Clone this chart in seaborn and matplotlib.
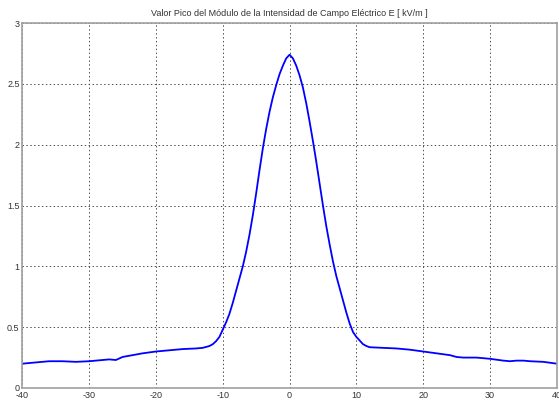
import matplotlib
matplotlib.use("Agg")
import matplotlib.pyplot as plt
import seaborn as sns
import pandas as pd

x_vals = [-40, -38, -36, -34, -32, -30, -28, -27, -26, -25, -24, -22, -20, -18, -16, -14, -13,
          -12, -11.5, -11, -10.5, -10, -9.5, -9, -8.5, -8, -7.5, -7, -6.5, -6, -5.5, -5, -4.5, -4,
          -3.5, -3, -2.5, -2, -1.5, -1, -0.5, 0, 0.5, 1, 1.5, 2, 2.5, 3, 3.5, 4, 4.5, 5, 5.5, 6,
          6.5, 7, 7.5, 8, 8.5, 9, 9.5, 10, 10.5, 11, 11.5, 12,
          14, 16, 18, 20, 22, 24, 25, 26, 28, 30, 32, 33, 34, 35, 36, 38, 40]
e_vals = [0.20, 0.21, 0.22, 0.22, 0.215, 0.22, 0.23, 0.235, 0.23, 0.255, 0.265, 0.285, 0.30, 0.31, 0.32, 0.325, 0.33,
          0.345, 0.36, 0.385, 0.42, 0.48, 0.54, 0.61, 0.70, 0.80, 0.90, 1.00, 1.12, 1.26, 1.42, 1.60, 1.79, 1.97,
          2.13, 2.27, 2.39, 2.49, 2.58, 2.65, 2.71, 2.74, 2.71, 2.65, 2.57, 2.47, 2.34, 2.19, 2.03, 1.86, 1.68, 1.50, 1.33, 1.18,
          1.04, 0.92, 0.82, 0.72, 0.62, 0.53, 0.46, 0.42, 0.39, 0.36, 0.345, 0.335,
          0.33, 0.325, 0.315, 0.30, 0.285, 0.27, 0.255, 0.25, 0.25, 0.24, 0.225, 0.22, 0.225, 0.225, 0.22, 0.215, 0.20]
x_ticks = [-40, -30, -20, -10, 0, 10, 20, 30, 40]
y_ticks = [0, 0.5, 1, 1.5, 2, 2.5, 3]
y_labels = ["0", "0.5", "1", "1.5", "2", "2.5", "3"]
title = "Valor Pico del Módulo de la Intensidad de Campo Eléctrico E [ kV/m ]"

sns.set_style("white")
plt.rcParams["font.family"] = ["Liberation Sans", "DejaVu Sans"]

df = pd.DataFrame({"x": x_vals, "E": e_vals})
fig = plt.figure(figsize=(5.59, 4.05), dpi=100)
ax = fig.add_axes([0.040, 0.042, 0.956, 0.901])
sns.lineplot(data=df, x="x", y="E", ax=ax, color="#0000ff", linewidth=1.3)
ax.set_xlim(-40, 40)
ax.set_ylim(0, 3)
ax.set_xticks(x_ticks)
ax.set_xticklabels([str(t) for t in x_ticks])
ax.set_yticks(y_ticks)
ax.set_yticklabels(y_labels)
ax.set_xlabel("")
ax.set_ylabel("")
ax.grid(True, linestyle=(0, (1.5, 2.5)), color="#505050", linewidth=0.7)
for s in ax.spines.values():
    s.set_color("#a0a0a0")
    s.set_linewidth(1.2)
ax.tick_params(direction="in", length=4, width=0.8, color="#606060",
               labelsize=6.5, labelcolor="#333333", pad=2)
ax.set_title(title, fontsize=6.5, color="#333333", pad=5)
fig.savefig("out.png", dpi=100)
